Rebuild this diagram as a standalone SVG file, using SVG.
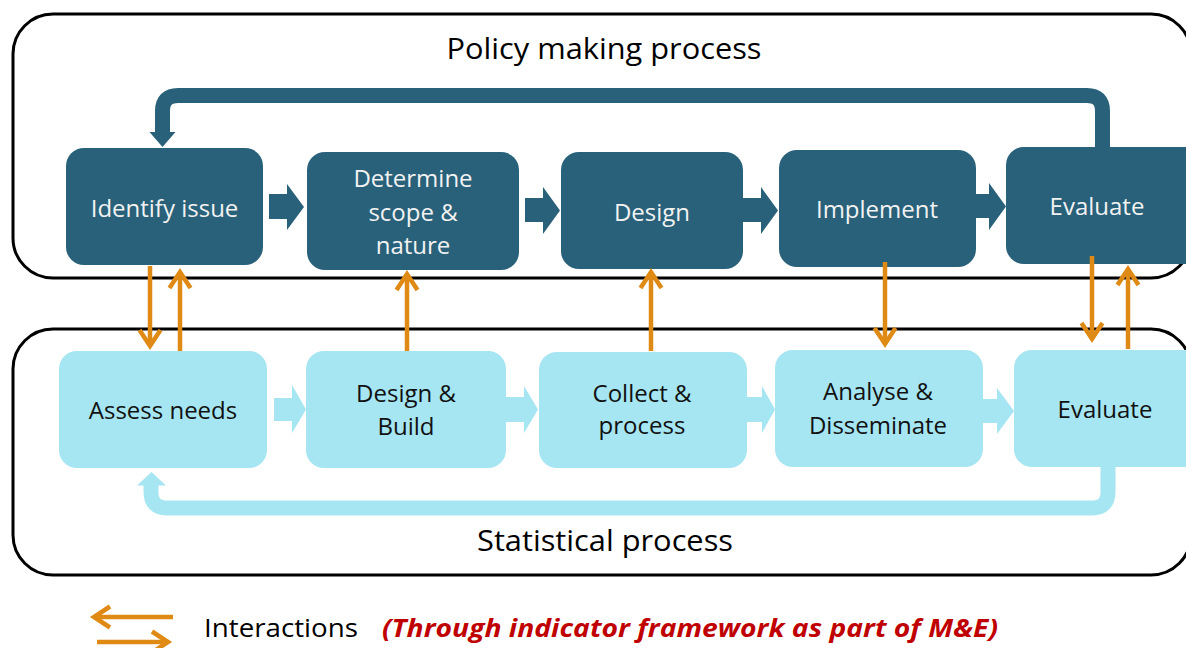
<svg xmlns="http://www.w3.org/2000/svg" width="1186" height="648" viewBox="0 0 1186 648">
  <style>
    .frame { fill: none; stroke: #000; stroke-width: 3; }
    .dk { fill: #286179; }
    .lt { fill: #a6e6f2; }
    .dkflow { fill: none; stroke: #286179; stroke-width: 15; }
    .ltflow { fill: none; stroke: #a6e6f2; stroke-width: 15; }
    .orange { fill: none; stroke: #de8a14; stroke-width: 4.5; marker-end: url(#oa); }
    text { font-family: "Open Sans", "Liberation Sans", sans-serif; text-anchor: middle; }
    .title { font-size: 30px; fill: #000; }
    .wlab { font-size: 24px; fill: #f2f2f2; }
    .blab { font-size: 24px; fill: #111; }
    .legend { font-size: 25px; fill: #000; text-anchor: start; }
    .note { font-size: 25px; fill: #c00000; font-weight: bold; font-style: italic; text-anchor: start; }
  </style>
  <defs>
    <marker id="oa" markerUnits="userSpaceOnUse" viewBox="-22 -14 30 28" refX="0" refY="0" markerWidth="30" markerHeight="28" orient="auto">
      <path d="M-16,-10.5 L0,0 L-16,10.5" fill="none" stroke="#de8a14" stroke-width="4.5" stroke-linejoin="miter"/>
    </marker>
  </defs>

  <!-- process containers -->
  <rect class="frame" x="13" y="14" width="1178" height="264" rx="40"/>
  <rect class="frame" x="13" y="329" width="1178" height="246" rx="40"/>

  <text class="title" x="604" y="59" textLength="315" lengthAdjust="spacingAndGlyphs">Policy making process</text>
  <text class="title" x="605" y="551" textLength="256" lengthAdjust="spacingAndGlyphs">Statistical process</text>

  <!-- policy making nodes -->
  <g id="identify-issue">
    <rect class="dk" x="66" y="148" width="197" height="117" rx="18"/>
    <text class="wlab" x="164.5" y="217">Identify issue</text>
  </g>
  <g id="determine-scope">
    <rect class="dk" x="307" y="152" width="212" height="118" rx="18"/>
    <text class="wlab" x="413" y="187">Determine</text>
    <text class="wlab" x="413" y="221">scope &amp;</text>
    <text class="wlab" x="413" y="254">nature</text>
  </g>
  <g id="design">
    <rect class="dk" x="561" y="152" width="182" height="117" rx="18"/>
    <text class="wlab" x="652" y="221">Design</text>
  </g>
  <g id="implement">
    <rect class="dk" x="779" y="150" width="197" height="117" rx="18"/>
    <text class="wlab" x="877" y="218">Implement</text>
  </g>
  <g id="evaluate-policy">
    <rect class="dk" x="1006" y="147" width="196" height="117" rx="18"/>
    <text class="wlab" x="1097" y="215">Evaluate</text>
  </g>

  <!-- statistical nodes -->
  <g id="assess-needs">
    <rect class="lt" x="59" y="351" width="208" height="117" rx="18"/>
    <text class="blab" x="163" y="419">Assess needs</text>
  </g>
  <g id="design-build">
    <rect class="lt" x="306" y="351" width="200" height="117" rx="18"/>
    <text class="blab" x="406" y="402">Design &amp;</text>
    <text class="blab" x="406" y="435">Build</text>
  </g>
  <g id="collect-process">
    <rect class="lt" x="539" y="352" width="208" height="116" rx="18"/>
    <text class="blab" x="642" y="402">Collect &amp;</text>
    <text class="blab" x="642" y="434">process</text>
  </g>
  <g id="analyse-disseminate">
    <rect class="lt" x="775" y="350" width="208" height="117" rx="18"/>
    <text class="blab" x="878" y="400">Analyse &amp;</text>
    <text class="blab" x="878" y="434">Disseminate</text>
  </g>
  <g id="evaluate-stats">
    <rect class="lt" x="1014" y="350" width="188" height="117" rx="18"/>
    <text class="blab" x="1105" y="418">Evaluate</text>
  </g>

  <g id="connectors">
    <!-- policy cycle step arrows -->
    <polygon class="dk" points="269,194 287,194 287,184 304,207 287,230 287,219 269,219"/>
    <polygon class="dk" points="525,198 543,198 543,187 560,210.5 543,234 543,222 525,222"/>
    <polygon class="dk" points="743,198 761,198 761,187 778,210.5 761,234 761,222 743,222"/>
    <polygon class="dk" points="976,194 989,194 989,183 1006,206.5 989,230 989,218 976,218"/>
    <!-- policy feedback loop -->
    <path class="dkflow" d="M1102.5,148 V111 Q1102.5,95.5 1087,95.5 H178 Q162.5,95.5 162.5,111 V133"/>
    <polygon class="dk" points="149.5,132 175.5,132 162.5,147"/>

    <!-- statistical cycle step arrows -->
    <polygon class="lt" points="274,398 292,398 292,385 306,409.5 292,433 292,421 274,421"/>
    <polygon class="lt" points="506,397 524,397 524,386 538,409.5 524,433 524,422 506,422"/>
    <polygon class="lt" points="747,397 762,397 762,386 775,409.5 762,433 762,422 747,422"/>
    <polygon class="lt" points="983,399 997,399 997,388 1014,411 997,434 997,423 983,423"/>
    <!-- statistical feedback loop -->
    <path class="ltflow" d="M1108,466 V492 Q1108,508 1092,508 H167 Q151,508 151,492 V484"/>
    <polygon class="lt" points="137,485.5 166,485.5 151.5,472"/>

    <!-- interactions between the two processes -->
    <line class="orange" x1="150" y1="266" x2="150" y2="346"/>
    <line class="orange" x1="180" y1="351" x2="180" y2="272"/>
    <line class="orange" x1="407" y1="351" x2="407" y2="274"/>
    <line class="orange" x1="651" y1="351" x2="651" y2="272"/>
    <line class="orange" x1="885" y1="262" x2="885" y2="344"/>
    <line class="orange" x1="1092" y1="256" x2="1092" y2="339"/>
    <line class="orange" x1="1128" y1="349" x2="1128" y2="269"/>
  </g>

  <!-- legend -->
  <g id="legend">
    <line class="orange" x1="173" y1="617" x2="94" y2="617"/>
    <line class="orange" x1="97" y1="642" x2="168" y2="642"/>
    <text class="legend" x="204" y="637" textLength="154" lengthAdjust="spacingAndGlyphs">Interactions</text>
    <text class="note" x="382" y="637" textLength="616" lengthAdjust="spacingAndGlyphs">(Through indicator framework as part of M&amp;E)</text>
  </g>
</svg>
